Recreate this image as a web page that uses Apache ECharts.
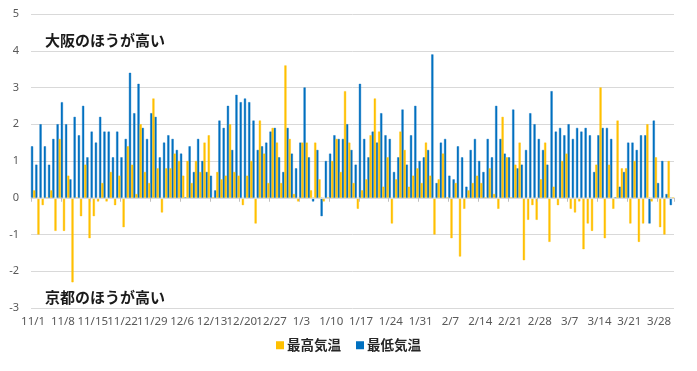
<!DOCTYPE html>
<html><head><meta charset="utf-8">
<script src="https://cdn.jsdelivr.net/npm/echarts@6/dist/echarts.min.js"></script>
<style>html,body{margin:0;padding:0;background:#fff;}#c{width:697px;height:371px;}</style>
</head><body><div id="c"></div>
<script>
const dates = ['11/1','11/2','11/3','11/4','11/5','11/6','11/7','11/8','11/9','11/10','11/11','11/12','11/13','11/14','11/15','11/16','11/17','11/18','11/19','11/20','11/21','11/22','11/23','11/24','11/25','11/26','11/27','11/28','11/29','11/30',
'12/1','12/2','12/3','12/4','12/5','12/6','12/7','12/8','12/9','12/10','12/11','12/12','12/13','12/14','12/15','12/16','12/17','12/18','12/19','12/20','12/21','12/22','12/23','12/24','12/25','12/26','12/27','12/28','12/29','12/30','12/31',
'1/1','1/2','1/3','1/4','1/5','1/6','1/7','1/8','1/9','1/10','1/11','1/12','1/13','1/14','1/15','1/16','1/17','1/18','1/19','1/20','1/21','1/22','1/23','1/24','1/25','1/26','1/27','1/28','1/29','1/30','1/31',
'2/1','2/2','2/3','2/4','2/5','2/6','2/7','2/8','2/9','2/10','2/11','2/12','2/13','2/14','2/15','2/16','2/17','2/18','2/19','2/20','2/21','2/22','2/23','2/24','2/25','2/26','2/27','2/28',
'3/1','3/2','3/3','3/4','3/5','3/6','3/7','3/8','3/9','3/10','3/11','3/12','3/13','3/14','3/15','3/16','3/17','3/18','3/19','3/20','3/21','3/22','3/23','3/24','3/25','3/26','3/27','3/28','3/29','3/30','3/31'];

// 最高気温
const maxTemp = [0.2,-1.0,-0.2,0,0.2,-0.9,1.6,-0.9,0.6,-2.3,
0,-0.5,0.9,-1.1,-0.5,-0.1,0.4,-0.1,0.7,-0.2,
0.6,-0.8,1.4,0.9,0.1,2.0,0.7,0.4,2.7,0.8,
-0.4,0.8,0.8,1.2,1.0,0.6,1.0,0.4,1.0,0.7,
1.5,1.7,0,0.7,0.5,0.6,2.0,0.7,0.6,-0.2,
0.6,1.0,-0.7,2.1,1.2,0.4,1.9,1.5,0.4,3.6,
1.6,0.1,-0.1,1.5,1.5,0.2,1.5,0.5,-0.1,0,
1.0,1.6,0.7,2.9,1.5,0.4,-0.3,0.2,0.5,1.7,
2.7,1.8,0.3,1.1,-0.7,0.5,1.8,1.3,0.3,0.6,
0.8,0.4,1.5,0.6,-1.0,0.5,1.2,0,-1.1,0.4,
-1.6,-0.3,0.2,0.4,0.6,0.4,0,0.8,0.1,-0.3,
2.2,1.1,0,0.9,1.5,-1.7,-0.6,-0.2,-0.6,0.5,
1.5,-1.2,0.3,-0.2,1.0,1.2,-0.3,-0.4,-0.1,-1.4,
-0.7,-0.9,0.9,3.0,-1.1,0.9,-0.3,2.1,0.8,0.8,
-0.7,1.0,-1.2,-0.7,2.0,-0.1,1.1,-0.8,-1.0,1.0,
0];

// 最低気温
const minTemp = [1.4,0.9,2.0,1.4,0.9,1.6,2.0,2.6,2.0,0.5,
2.2,1.7,2.5,1.1,1.8,1.5,2.2,1.8,1.8,1.1,
1.8,1.1,1.6,3.4,2.3,3.1,1.9,1.6,2.3,2.2,
1.1,1.5,1.7,1.6,1.3,1.2,0,1.4,0.7,1.6,
1.0,0.7,0.6,0.2,2.1,1.9,2.5,1.3,2.8,2.6,
2.7,2.6,2.1,1.3,1.4,1.5,1.8,1.9,1.1,0.7,
1.9,1.2,0.8,1.5,3.0,1.1,-0.1,1.3,-0.5,1.0,
1.2,1.7,1.6,1.6,2.0,1.3,0.9,3.1,1.6,1.1,
1.8,1.5,2.3,1.7,1.6,0.7,1.1,2.4,0.9,1.7,
2.5,1.0,1.1,1.3,3.9,0.4,1.5,1.6,0.6,0.5,
1.4,1.1,0.3,1.3,1.6,1.0,0.7,1.6,1.1,2.5,
1.6,1.2,1.1,2.4,0.8,0.9,1.3,2.3,2.0,1.6,
1.3,0.9,2.9,1.8,1.9,1.7,2.0,1.6,1.9,1.8,
1.9,1.7,0.7,1.7,1.9,1.9,1.6,0,0.3,0.7,
1.5,1.5,1.3,1.7,1.7,-0.7,2.1,0.4,1.0,0.1,
-0.2];

const seriesNames = ['最高気温','最低気温'];
const noteUpper = '大阪のほうが高い';
const noteLower = '京都のほうが高い';

const chart = echarts.init(document.getElementById('c'), null, {renderer:'canvas'});
const jp = '"Noto Sans CJK JP", "Noto Sans", sans-serif';
chart.setOption({
  animation:false,
  backgroundColor:'#ffffff',
  grid:{left:31, right:23, top:14, bottom:63},
  legend:{
    data:seriesNames, bottom:14, left:'center',
    icon:'rect', itemWidth:6, itemHeight:6, itemGap:15,
    textStyle:{fontFamily:jp, fontSize:13.5, fontWeight:'bold', color:'#262626', padding:[0,0,0,-1]}
  },
  xAxis:[{
    type:'category', data:dates, position:'bottom',
    axisLine:{show:true, onZero:true, lineStyle:{color:'#D9D9D9', width:1}},
    axisTick:{show:true, interval:6, length:4, lineStyle:{color:'#BFBFBF'}},
    axisLabel:{show:false}, splitLine:{show:false}, z:3
  },{
    type:'category', data:dates, position:'bottom',
    axisLine:{show:false, onZero:false}, axisTick:{show:false},
    axisLabel:{show:true, interval:6, color:'#595959', fontSize:11.5, fontFamily:'"Noto Sans", sans-serif', margin:8},
    splitLine:{show:false}
  }],
  yAxis:{
    type:'value', min:-3, max:5, interval:1,
    axisLine:{show:false}, axisTick:{show:false},
    axisLabel:{color:'#595959', fontSize:11, fontFamily:'"Noto Sans", sans-serif', margin:12},
    splitLine:{lineStyle:{color:'#D9D9D9', width:1}}
  },
  graphic:[
    {type:'text', left:45, top:33, style:{text:noteUpper, font:'bold 15px "Noto Sans CJK JP"', fill:'#1a1a1a'}},
    {type:'text', left:45, top:290, style:{text:noteLower, font:'bold 15px "Noto Sans CJK JP"', fill:'#1a1a1a'}}
  ],
  series:[
    {name:seriesNames[1], type:'bar', data:minTemp, xAxisIndex:0, barGap:'0%', barCategoryGap:'0%',
     itemStyle:{color:'#0070C0', borderColor:'#0070C0', borderWidth:0.4}},
    {name:seriesNames[0], type:'bar', data:maxTemp, xAxisIndex:0, barGap:'0%', barCategoryGap:'0%',
     itemStyle:{color:'#FFC000', borderColor:'#FFC000', borderWidth:0.4}}
  ]
});
</script></body></html>
